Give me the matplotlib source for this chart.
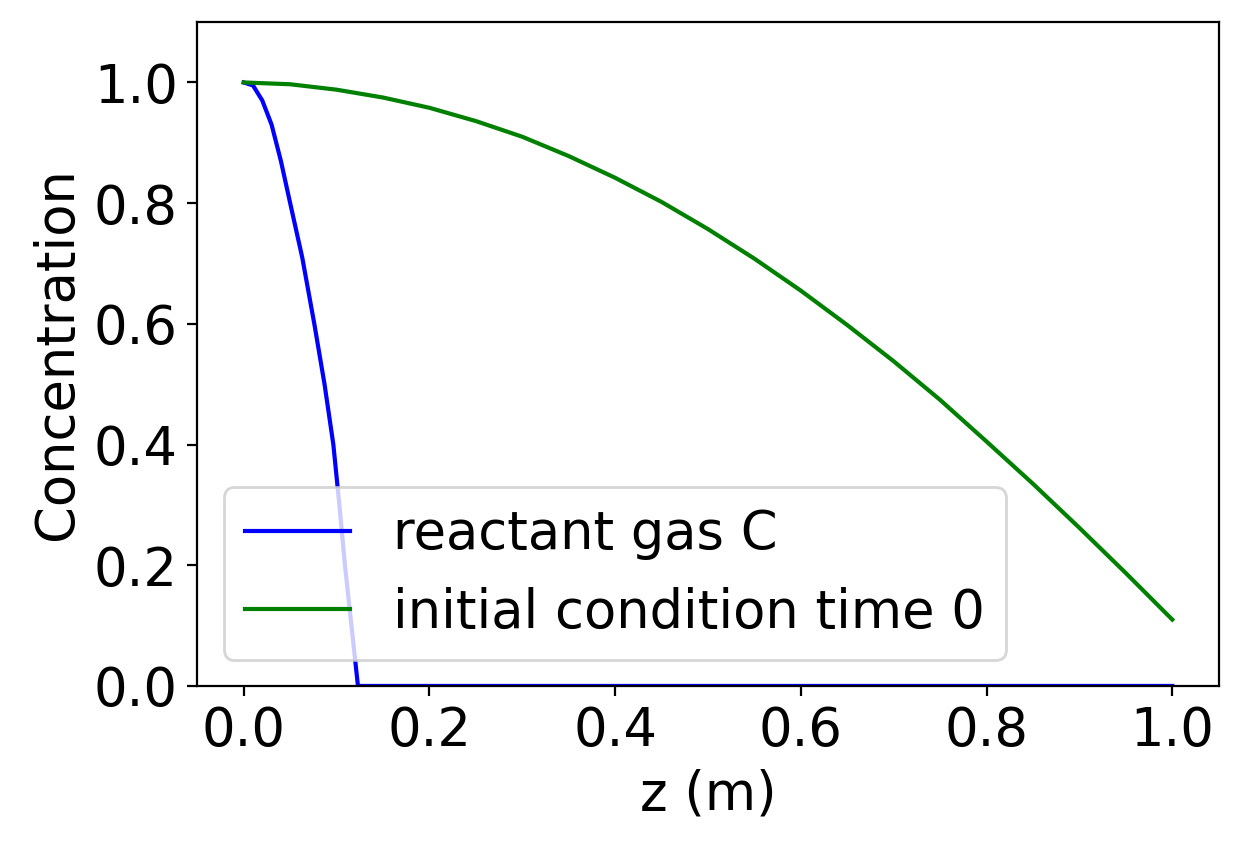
import matplotlib
matplotlib.use("Agg")
import matplotlib.pyplot as plt

# green: initial condition profile
z_init = [0.0, 0.05, 0.1, 0.15, 0.2, 0.25, 0.3, 0.35, 0.4, 0.45, 0.5, 0.55, 0.6,
          0.65, 0.7, 0.75, 0.8, 0.85, 0.9, 0.95, 1.0]
c_init = [1.0, 0.997, 0.988, 0.975, 0.958, 0.936, 0.910, 0.878, 0.842, 0.802, 0.757,
          0.708, 0.655, 0.598, 0.538, 0.474, 0.405, 0.335, 0.262, 0.187, 0.110]

# blue: reactant gas C
z_gas = [0.0, 0.01, 0.02, 0.03, 0.04, 0.05, 0.063, 0.076, 0.087, 0.0965, 0.103, 0.109, 0.116, 0.123, 1.0]
c_gas = [1.0, 0.995, 0.97, 0.93, 0.87, 0.80, 0.71, 0.60, 0.50, 0.40, 0.30, 0.20, 0.10, 0.0, 0.0]

plt.rcParams['font.size'] = 19
fig = plt.figure(figsize=(6.205, 4.25), dpi=200)
ax = fig.add_axes([0.159, 0.193, 0.823, 0.781])
ax.plot(z_gas, c_gas, color='blue', label='reactant gas C')
ax.plot(z_init, c_init, color='green', label='initial condition time 0')
ax.set_ylim(0, 1.1)
ax.set_yticks([0.0, 0.2, 0.4, 0.6, 0.8, 1.0])
ax.set_xlabel('z (m)')
ax.set_ylabel('Concentration')
ax.legend(loc='lower left')
fig.savefig('out.png')
